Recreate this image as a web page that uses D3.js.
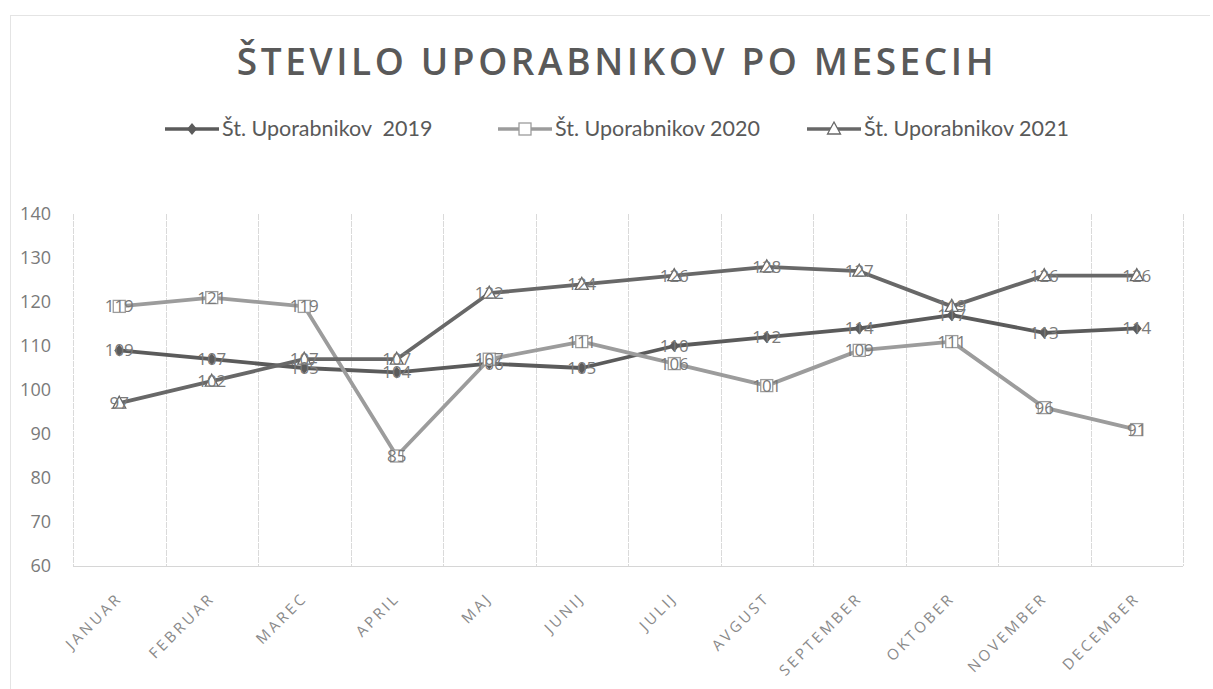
<!DOCTYPE html>
<html>
<head>
<meta charset="utf-8">
<script src="https://cdn.jsdelivr.net/npm/d3@7"></script>
<style>
  html, body { margin: 0; padding: 0; background: #fff; }
  svg { display: block; }
</style>
</head>
<body>
<svg id="chart" width="1213" height="689"></svg>
<script>
// Monthly user counts
const months = ["JANUAR", "FEBRUAR", "MAREC", "APRIL", "MAJ", "JUNIJ", "JULIJ", "AVGUST", "SEPTEMBER", "OKTOBER", "NOVEMBER", "DECEMBER"];
const users2019 = [109, 107, 105, 104, 106, 105, 110, 112, 114, 117, 113, 114];
const users2020 = [119, 121, 119, 85, 107, 111, 106, 101, 109, 111, 96, 91];
const users2021 = [97, 102, 107, 107, 122, 124, 126, 128, 127, 119, 126, 126];
const seriesNames = ["Št. Uporabnikov  2019", "Št. Uporabnikov 2020", "Št. Uporabnikov 2021"];
const yTicks = [60, 70, 80, 90, 100, 110, 120, 130, 140];
const chartTitle = "ŠTEVILO UPORABNIKOV PO MESECIH";

const svg = d3.select("#chart");
const plot = { left: 73, right: 1183, top: 214, bottom: 566 };

const x = d3.scaleBand().domain(months).range([plot.left, plot.right]);
const y = d3.scaleLinear().domain([60, 140]).range([plot.bottom, plot.top]);
const cx = m => x(m) + x.bandwidth() / 2;

const series = [
  { name: seriesNames[0], values: users2019, color: "#5b5b5b", marker: "diamond" },
  { name: seriesNames[1], values: users2020, color: "#9c9c9c", marker: "square" },
  { name: seriesNames[2], values: users2021, color: "#686868", marker: "triangle" }
];

// outer chart frame (top and left edges)
svg.append("line").attr("x1", 10).attr("x2", 1210).attr("y1", 15.5).attr("y2", 15.5)
  .attr("stroke", "#e4e4e4").attr("stroke-width", 1);
svg.append("line").attr("x1", 10.5).attr("x2", 10.5).attr("y1", 15).attr("y2", 689)
  .attr("stroke", "#e4e4e4").attr("stroke-width", 1);

// title
svg.append("text")
  .attr("x", 617).attr("y", 75)
  .attr("text-anchor", "middle")
  .attr("font-family", "'Open Sans', sans-serif")
  .attr("font-weight", 600)
  .attr("font-size", 37)
  .attr("letter-spacing", 3.6)
  .attr("fill", "#595959")
  .text(chartTitle);

// marker shapes
function drawMarker(g, type, px, py, color) {
  if (type === "diamond") {
    g.append("path")
      .attr("d", `M${px},${py - 6}L${px + 5},${py}L${px},${py + 6}L${px - 5},${py}Z`)
      .attr("fill", color);
  } else if (type === "square") {
    g.append("rect")
      .attr("x", px - 6).attr("y", py - 6).attr("width", 12).attr("height", 12)
      .attr("fill", "#fff").attr("stroke", color).attr("stroke-width", 1.3);
  } else {
    g.append("path")
      .attr("d", `M${px},${py - 7}L${px + 6.5},${py + 5}L${px - 6.5},${py + 5}Z`)
      .attr("fill", "#fff").attr("stroke", color).attr("stroke-width", 1.3);
  }
}

// legend
const legendPos = [165, 498, 807];
series.forEach((s, i) => {
  const g = svg.append("g");
  const lx = legendPos[i], ly = 129;
  g.append("line").attr("x1", lx).attr("x2", lx + 54).attr("y1", ly).attr("y2", ly)
    .attr("stroke", s.color).attr("stroke-width", 3.5);
  drawMarker(g, s.marker, lx + 27, ly, s.color);
  g.append("text")
    .attr("x", lx + 57).attr("y", ly + 7)
    .attr("font-family", "Lato, sans-serif")
    .attr("font-size", 21.5)
    .attr("fill", "#595959")
    .style("white-space", "pre")
    .text(s.name);
});

// vertical category gridlines
const bounds = months.map(m => x(m)).concat([plot.right]);
svg.append("g").selectAll("line").data(bounds).join("line")
  .attr("x1", d => Math.round(d) + 0.5).attr("x2", d => Math.round(d) + 0.5)
  .attr("y1", plot.top).attr("y2", plot.bottom)
  .attr("stroke", "#dadada").attr("stroke-width", 1)
  .attr("stroke-dasharray", "6,1");

// x axis baseline
svg.append("line").attr("x1", plot.left).attr("x2", plot.right)
  .attr("y1", plot.bottom + 0.5).attr("y2", plot.bottom + 0.5)
  .attr("stroke", "#d6d6d6").attr("stroke-width", 1);

// y axis labels
const yAxis = d3.axisLeft(y).tickValues(yTicks).tickSize(0).tickPadding(0);
const yg = svg.append("g").attr("transform", `translate(${plot.left - 22},0)`).call(yAxis);
yg.select(".domain").remove();
yg.selectAll("text")
  .attr("font-family", "'Open Sans', sans-serif")
  .attr("font-size", 18)
  .attr("fill", "#7a7a7a");

// x axis labels
const xAxis = d3.axisBottom(x).tickSize(0).tickPadding(0);
const xg = svg.append("g").attr("transform", `translate(0,${plot.bottom})`).call(xAxis);
xg.select(".domain").remove();
xg.selectAll("text")
  .attr("font-family", "'Open Sans', sans-serif")
  .attr("font-size", 15)
  .attr("letter-spacing", 3)
  .attr("fill", "#8a8a8a")
  .attr("text-anchor", "end")
  .attr("dy", 0)
  .attr("transform", "translate(4,33) rotate(-45)");

// series lines
const line = d3.line().x((d, i) => cx(months[i])).y(d => y(d));
series.forEach(s => {
  svg.append("path").datum(s.values)
    .attr("d", line)
    .attr("fill", "none")
    .attr("stroke", s.color)
    .attr("stroke-width", 3.8)
    .attr("stroke-linejoin", "round");
});

// markers
series.forEach(s => {
  const g = svg.append("g");
  s.values.forEach((v, i) => drawMarker(g, s.marker, cx(months[i]), y(v), s.color));
});

// data labels centred on points
series.forEach(s => {
  svg.append("g").selectAll("text").data(s.values).join("text")
    .attr("x", (d, i) => cx(months[i]))
    .attr("y", d => y(d) + 6)
    .attr("text-anchor", "middle")
    .attr("font-family", "'Open Sans', sans-serif")
    .attr("font-size", 17)
    .attr("fill", "#7a7a7a")
    .text(d => d);
});
</script>
</body>
</html>
